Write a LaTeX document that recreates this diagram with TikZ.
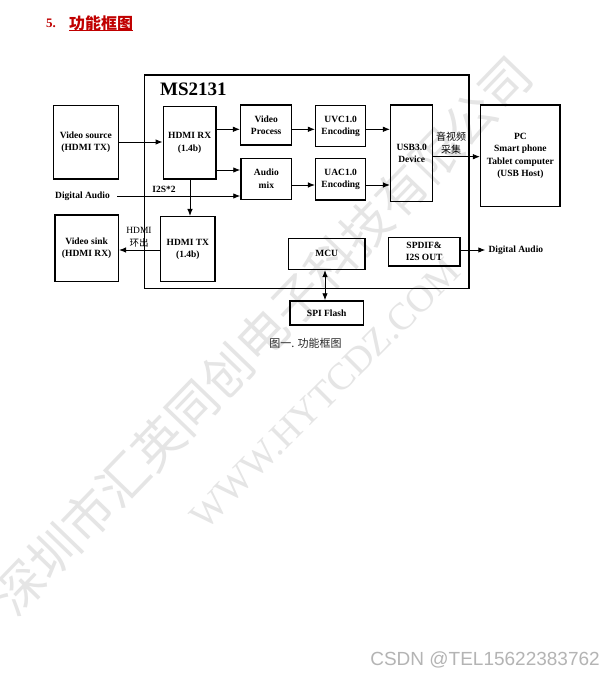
\documentclass[tikz,border=0pt]{standalone}
\usepackage{fontspec}
\setmainfont{Liberation Serif}
\newfontfamily\cjkfont{Noto Sans CJK SC}
\newfontfamily\csdnfont{Liberation Sans}
\usetikzlibrary{arrows.meta}
\definecolor{titlered}{HTML}{C00000}
\definecolor{wmgray}{HTML}{E5E5E5}
\definecolor{csdngray}{HTML}{B4B4B4}
\begin{document}
\begin{tikzpicture}[x=1pt,y=-1pt,
  blk/.style={draw, line width=1.5pt, inner sep=0pt, align=center,
    font=\fontsize{9.5}{12.4}\selectfont\bfseries},
  arr/.style={line width=0.9pt, -{Latex[length=7pt,width=5.5pt]}},
  dblarr/.style={line width=0.9pt, {Latex[length=7pt,width=5.5pt]}-{Latex[length=7pt,width=5.5pt]}},
  lbl/.style={inner sep=0pt, font=\fontsize{9.5}{12.4}\selectfont\bfseries},
  wmark/.style={inner sep=0pt, text=wmgray}]
\useasboundingbox (0,0) rectangle (614,677);
\fill[white] (0,0) rectangle (614,677);

% watermark
\node[wmark, rotate=46, font=\cjkfont\fontsize{50}{50}\selectfont] (wm1) at (262,335) {深圳市汇英同创电子科技有限公司};
\node[wmark, rotate=45, font=\fontsize{38}{38}\selectfont] (wm2) at (325,394) {WWW.HYTCDZ.COM};

% title
\node[anchor=west, inner sep=0pt, text=titlered, font=\fontsize{13}{13}\selectfont\bfseries] (num) at (46,23) {5.};
\node[anchor=west, inner sep=0pt, text=titlered, font=\cjkfont\fontsize{16}{16}\selectfont\bfseries] (ttl) at (69,23) {功能框图};
\draw[titlered, line width=1.1pt] (ttl.south west) -- (ttl.south east);

% chip
\node[draw, line width=1.5pt, inner sep=0pt, minimum width=324.5pt, minimum height=213.3pt] (chip) at (306.75,181.65) {};
\node[anchor=west, inner sep=0pt, font=\fontsize{19}{19}\selectfont\bfseries] (chipname) at (160,89.5) {MS2131};

% blocks
\node[blk, minimum width=65pt, minimum height=73.3pt] (vsrc) at (85.8,142.35) {Video source\\(HDMI TX)};
\node[blk, minimum width=52.7pt, minimum height=72.3pt] (hrx) at (189.65,142.85) {HDMI RX\\(1.4b)};
\node[blk, minimum width=51pt, minimum height=40pt] (vp) at (266.2,125) {Video\\Process};
\node[blk, minimum width=50.7pt, minimum height=41pt] (amix) at (266.35,178.8) {Audio\\mix};
\node[blk, minimum width=50pt, minimum height=41pt] (uvc) at (340.7,126.2) {UVC1.0\\Encoding};
\node[blk, minimum width=50pt, minimum height=41.7pt] (uac) at (340.7,179.15) {UAC1.0\\Encoding};
\node[blk, minimum width=42pt, minimum height=96.7pt] (usb) at (411.7,153.35) {USB3.0\\Device};
\node[blk, minimum width=79.3pt, minimum height=101.7pt] (pc) at (520.35,155.85) {PC\\Smart phone\\Tablet computer\\(USB Host)};
\node[blk, minimum width=63.3pt, minimum height=66.7pt] (vsink) at (86.65,248.35) {Video sink\\(HDMI RX)};
\node[blk, minimum width=54.3pt, minimum height=65pt] (htx) at (187.85,249.2) {HDMI TX\\(1.4b)};
\node[blk, minimum width=76.7pt, minimum height=31pt] (mcu) at (326.65,253.8) {MCU};
\node[blk, minimum width=71.7pt, minimum height=28.7pt] (spdif) at (424.15,251.65) {SPDIF\&\\I2S OUT};
\node[blk, minimum width=73.3pt, minimum height=24pt] (spi) at (326.65,313) {SPI Flash};

% labels
\node[lbl, anchor=west] (dal) at (55,196) {Digital Audio};
\node[lbl] (i2s) at (164,189) {I2S*2};
\node[lbl, anchor=west] (dar) at (488.3,250) {Digital Audio};
\node[inner sep=0pt, align=center, font=\cjkfont\fontsize{10}{12.6}\selectfont] (av) at (451,143) {音视频\\采集};
\node[inner sep=0pt, align=center, font=\fontsize{9.5}{12.6}\selectfont] (hl) at (139,237) {HDMI\\{\cjkfont 环出}};

% connectors
\draw[arr] (vsrc.east |- 0,142) -- (hrx.west |- 0,142);
\draw[arr] (hrx.east |- 0,129.3) -- (vp.west |- 0,129.3);
\draw[arr] (hrx.east |- 0,170) -- (amix.west |- 0,170);
\draw[arr] ([xshift=7pt]dal.east) -- (amix.west |- dal.east);
\draw[arr] (vp.east |- 0,129.3) -- (uvc.west |- 0,129.3);
\draw[arr] (uvc.east |- 0,129.3) -- (usb.west |- 0,129.3);
\draw[arr] (amix.east |- 0,185) -- (uac.west |- 0,185);
\draw[arr] (uac.east |- 0,185) -- (usb.west |- 0,185);
\draw[arr] (usb.east |- 0,156.7) -- (pc.west |- 0,156.7);
\draw[arr] (hrx.south -| 190,0) -- (htx.north -| 190,0);
\draw[arr] (htx.west |- 0,250) -- (vsink.east |- 0,250);
\draw[dblarr] (mcu.south -| 325,0) -- (spi.north -| 325,0);
\draw[arr] (spdif.east |- dar.west) -- ([xshift=-3pt]dar.west);

% caption
\node[inner sep=0pt, text=black!85, font=\cjkfont\fontsize{11}{11}\selectfont] (cap) at (305.5,343) {图一. 功能框图};

% footer
\node[anchor=east, inner sep=0pt, text=csdngray, font=\csdnfont\fontsize{19}{19}\selectfont] (csdn) at (600,660) {CSDN @TEL15622383762};
\end{tikzpicture}
\end{document}
